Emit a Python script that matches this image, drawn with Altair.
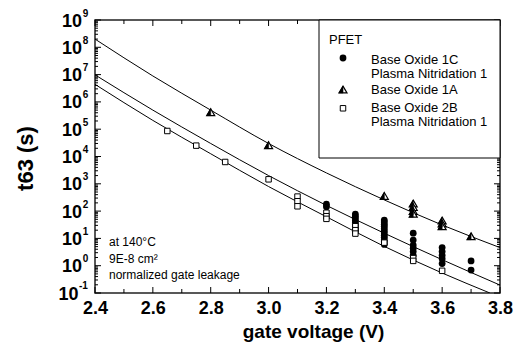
import altair as alt
import pandas as pd

FONT = "Liberation Sans"

# ---------------- data ----------------
# Base Oxide 1C / Plasma Nitridation 1 (filled circles)
c_v = [3.2, 3.2,
       3.3, 3.3, 3.3, 3.3, 3.3, 3.3, 3.3, 3.3, 3.3, 3.3,
       3.4, 3.4, 3.4, 3.4, 3.4, 3.4, 3.4, 3.4, 3.4, 3.4, 3.4, 3.4,
       3.5, 3.5, 3.5, 3.5, 3.5, 3.5,
       3.6, 3.6, 3.6, 3.6, 3.6,
       3.7, 3.7]
c_t = [180, 145,
       78, 65, 55, 45, 38, 32, 27, 23, 20, 18,
       47, 40, 33, 28, 23, 19, 16, 13, 11, 9, 7.5, 6,
       15.6, 8.7, 5.7, 4.4, 3.3, 2.4,
       4.6, 3.3, 2.4, 1.8, 1.2,
       1.5, 0.69]

# Base Oxide 1A (half-filled triangles)
a_v = [2.8, 3.0, 3.4, 3.5, 3.5, 3.5, 3.5, 3.6, 3.6, 3.6, 3.7]
a_t = [4.2e5, 2.6e4, 360, 190, 140, 100, 80, 45, 35, 28, 12]

# Base Oxide 2B / Plasma Nitridation 1 (open squares)
b_v = [2.65, 2.75, 2.85, 3.0, 3.1, 3.1, 3.1, 3.2, 3.2, 3.2, 3.3, 3.3, 3.3, 3.4, 3.5, 3.5, 3.6]
b_t = [8.6e4, 2.5e4, 6.3e3, 1.46e3, 340, 230, 150, 87, 65, 52, 28, 20, 15, 7, 1.9, 1.5, 0.65]

# fitted lines
fit_v = [2.4, 2.6, 2.8, 3.0, 3.2, 3.4, 3.6, 3.8]
fit_1A = [2.0e8, 8.9e6, 5.0e5, 3.0e4, 2.5e3, 257, 31, 4.6]
fit_1C = [9.8e6, 5.0e5, 3.0e4, 2.0e3, 162, 15.5, 1.66, 0.195]
fit_2B_v = [2.4, 2.6, 2.8, 3.0, 3.2, 3.4, 3.6, 3.765]
fit_2B = [4.4e6, 2.1e5, 1.26e4, 794, 62, 5.1, 0.54, 0.1]

x_ticks = [2.4, 2.6, 2.8, 3.0, 3.2, 3.4, 3.6, 3.8]
x_minor = [2.5, 2.7, 2.9, 3.1, 3.3, 3.5, 3.7]
decades = list(range(-1, 10))

legend_title = "PFET"
legend_lines = ["Base Oxide 1C", "Plasma Nitridation 1", "Base Oxide 1A",
                "Base Oxide 2B", "Plasma Nitridation 1"]
notes = ["at 140°C", "9E-8 cm²", "normalized gate leakage"]

# ---------------- tables ----------------
circles = pd.DataFrame({"V": c_v, "t": c_t})
tris = pd.DataFrame({"V": a_v, "t": a_t})
squares = pd.DataFrame({"V": b_v, "t": b_t})
lines = pd.concat([
    pd.DataFrame({"V": fit_v, "t": fit_1A, "s": "1A"}),
    pd.DataFrame({"V": fit_v, "t": fit_1C, "s": "1C"}),
    pd.DataFrame({"V": fit_2B_v, "t": fit_2B, "s": "2B"}),
])
major_y = pd.DataFrame({"v": [10.0 ** e for e in decades]})
minor_y = pd.DataFrame({"v": [k * 10.0 ** e for e in decades[:-1] for k in range(2, 10)]})
major_x = pd.DataFrame({"v": x_ticks})
minor_x = pd.DataFrame({"v": x_minor})
dec_lab = pd.DataFrame({"v": [10.0 ** e for e in decades], "b": "10", "e": [str(e) for e in decades]})
dec_pos = dec_lab[dec_lab["v"] >= 1]
dec_neg = dec_lab[dec_lab["v"] < 1]

W, H = 405, 273

xs = alt.Scale(domain=[2.4, 3.8], nice=False, zero=False)
ys = alt.Scale(type="log", domain=[0.1, 1e9], nice=False)

x_axis = alt.Axis(values=x_ticks, format=".1f", labelFont=FONT, labelFontSize=18,
                  labelFontWeight="bold", labelColor="black", labelPadding=6,
                  labelFlush=False, labelOverlap=False, ticks=False, tickSize=0,
                  domain=False, grid=False, title="gate voltage (V)", titleFont=FONT,
                  titleFontSize=19, titleFontWeight="bold", titleColor="black",
                  titleX=218, titleY=44, titleAlign="center", titleBaseline="alphabetic")
y_axis = alt.Axis(labels=False, ticks=False, tickSize=0, domain=False, grid=False,
                  title="t63 (s)", titleFont=FONT, titleFontSize=22, titleFontWeight="bold",
                  titleColor="black", titleX=-63, titleY=138, titleAngle=270,
                  titleAlign="center", titleBaseline="alphabetic")


def X(f):
    return alt.X(f, type="quantitative", scale=xs, axis=x_axis)


def Y(f):
    return alt.Y(f, type="quantitative", scale=ys, axis=y_axis)


TRI = "M0,-0.85L1,0.85L-1,0.85Z"
HALF = "M0,-0.85L-1,0.85L0,0.85Z"
TRI_SIZE = 64
CIRC_SIZE = 46
SQ_SIZE = 30

layers = []

layers.append(alt.Chart(lines).mark_line(color="black", strokeWidth=1, interpolate="monotone", clip=True)
              .encode(x=X("V"), y=Y("t"), detail="s:N"))
layers.append(alt.Chart(circles).mark_point(shape="circle", filled=True, color="black", size=CIRC_SIZE, opacity=1)
              .encode(x=X("V"), y=Y("t")))
layers.append(alt.Chart(tris).mark_point(shape=TRI, filled=True, fill="white", stroke="black",
                                         strokeWidth=1.2, size=TRI_SIZE, opacity=1)
              .encode(x=X("V"), y=Y("t")))
layers.append(alt.Chart(tris).mark_point(shape=HALF, filled=True, fill="black", stroke="black",
                                         strokeWidth=0.6, size=TRI_SIZE, opacity=1)
              .encode(x=X("V"), y=Y("t")))
layers.append(alt.Chart(squares).mark_point(shape="square", filled=True, fill="white", stroke="black",
                                            strokeWidth=1, size=SQ_SIZE, opacity=1)
              .encode(x=X("V"), y=Y("t")))

# ticks (inward)
layers.append(alt.Chart(major_y).mark_rule(color="black", strokeWidth=1)
              .encode(y=Y("v"), x=alt.value(0), x2=alt.value(6)))
layers.append(alt.Chart(minor_y).mark_rule(color="black", strokeWidth=1)
              .encode(y=Y("v"), x=alt.value(0), x2=alt.value(3)))
layers.append(alt.Chart(major_y).mark_rule(color="black", strokeWidth=1)
              .encode(y=Y("v"), x=alt.value(W - 6), x2=alt.value(W)))
layers.append(alt.Chart(minor_y).mark_rule(color="black", strokeWidth=1)
              .encode(y=Y("v"), x=alt.value(W - 3), x2=alt.value(W)))
for df, ln in [(major_x, 6), (minor_x, 4)]:
    layers.append(alt.Chart(df).mark_rule(color="black", strokeWidth=1)
                  .encode(x=X("v"), y=alt.value(H - ln), y2=alt.value(H)))
    layers.append(alt.Chart(df).mark_rule(color="black", strokeWidth=1)
                  .encode(x=X("v"), y=alt.value(0), y2=alt.value(ln)))

# y tick labels 10^n
layers.append(alt.Chart(dec_pos).mark_text(align="right", baseline="alphabetic", dy=6.5, font=FONT,
                                           fontSize=18, fontWeight="bold", color="black")
              .encode(x=alt.value(-13), y=Y("v"), text="b:N"))
layers.append(alt.Chart(dec_pos).mark_text(align="left", baseline="alphabetic", dy=-3.5, font=FONT,
                                           fontSize=10, fontWeight="bold", color="black")
              .encode(x=alt.value(-12.3), y=Y("v"), text="e:N"))
layers.append(alt.Chart(dec_neg).mark_text(align="right", baseline="alphabetic", dy=6.5, font=FONT,
                                           fontSize=18, fontWeight="bold", color="black")
              .encode(x=alt.value(-16.5), y=Y("v"), text="b:N"))
layers.append(alt.Chart(dec_neg).mark_text(align="left", baseline="alphabetic", dy=-4, font=FONT,
                                           fontSize=10, fontWeight="bold", color="black")
              .encode(x=alt.value(-16), y=Y("v"), text="e:N"))

# legend box
one = pd.DataFrame({"k": [0]})
layers.append(alt.Chart(one).mark_rect(fill="white", stroke="black", strokeWidth=1)
              .encode(x=alt.value(224), x2=alt.value(W), y=alt.value(0), y2=alt.value(138)))


def label(txt, px, py, size, weight="normal"):
    return (alt.Chart(pd.DataFrame({"t": [txt]}))
            .mark_text(align="left", baseline="alphabetic", font=FONT, fontSize=size,
                       fontWeight=weight, color="black")
            .encode(x=alt.value(px), y=alt.value(py), text="t:N"))


layers.append(label(legend_title, 234, 23.5, 13))
for txt, py in zip(legend_lines, [43.5, 57.7, 73.7, 91.7, 106.4]):
    layers.append(label(txt, 276, py, 13))

layers.append(alt.Chart(one).mark_point(shape="circle", filled=True, color="black", size=CIRC_SIZE, opacity=1)
              .encode(x=alt.value(248), y=alt.value(38)))
layers.append(alt.Chart(one).mark_point(shape=TRI, filled=True, fill="white", stroke="black",
                                        strokeWidth=1.2, size=TRI_SIZE, opacity=1)
              .encode(x=alt.value(248), y=alt.value(69.5)))
layers.append(alt.Chart(one).mark_point(shape=HALF, filled=True, fill="black", stroke="black",
                                        strokeWidth=0.6, size=TRI_SIZE, opacity=1)
              .encode(x=alt.value(248), y=alt.value(69.5)))
layers.append(alt.Chart(one).mark_point(shape="square", filled=True, fill="white", stroke="black",
                                        strokeWidth=1, size=SQ_SIZE, opacity=1)
              .encode(x=alt.value(248), y=alt.value(88.3)))

for txt, py in zip(notes, [226, 243, 259]):
    layers.append(label(txt, 14, py, 12))

chart = (alt.layer(*layers)
         .properties(width=W, height=H, autosize=alt.AutoSizeParams(type="none"),
                     padding={"left": 95, "top": 20, "right": 14, "bottom": 55},
                     background="white")
         .configure_view(stroke="#222", strokeWidth=1.5))

chart.save("out.html", embed_options={"renderer": "svg", "actions": False})
